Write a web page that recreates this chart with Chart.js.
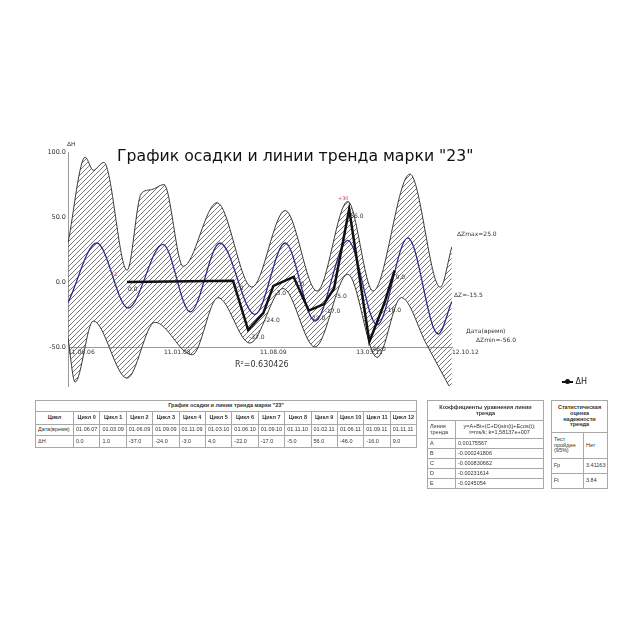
<!DOCTYPE html>
<html lang="ru">
<head>
  <meta charset="UTF-8" />
  <title>График осадки и линии тренда марки "23"</title>
  <script src="https://cdn.jsdelivr.net/npm/chart.js"></script>
  <style>
    body { margin: 0; background: #fff; font-family: 'DejaVu Sans', sans-serif; }
    #wrap { position: relative; width: 640px; height: 640px; overflow: hidden; }
    #chartBox { position: absolute; left: 0; top: 140px; width: 640px; height: 260px; }
    .txt { position: absolute; white-space: nowrap; color: #222; line-height: 1; }
    #title { left: 117px; top: 148px; font-size: 15.7px; color: #111; }
    .small { font-size: 6px; color: #333; }
    table { position: absolute; border-collapse: collapse; font-family: 'Liberation Sans', Arial, sans-serif; font-size: 5.5px; color: #333; table-layout: fixed; }
    td { border: 1px solid #a8a8a8; padding: 0 2px; line-height: 1.05; overflow: hidden; }
    td.c { text-align: center; }
    td.b { font-weight: bold; }
    .lg { display: inline-block; position: relative; width: 11px; height: 2px; background: #111; vertical-align: middle; }
    .lg::after { content: ''; position: absolute; left: 3px; top: -1.5px; width: 5px; height: 5px; border-radius: 50%; background: #111; }
  </style>
</head>
<body>
<div id="wrap">
  <div id="chartBox"><canvas id="chart"></canvas></div>

  <div class="txt" id="title">График осадки и линии тренда марки "23"</div>
  <div class="txt small" style="left:67px; top:141px;">ΔН</div>
  <div class="txt" style="left:235px; top:361px; font-size:8px; color:#333;">R²=0.630426</div>
  <div class="txt small" style="left:457px; top:231px;">ΔZmax=25.0</div>
  <div class="txt small" style="left:454px; top:292px;">ΔZ=-15.5</div>
  <div class="txt small" style="left:466px; top:328px;">Дата(время)</div>
  <div class="txt small" style="left:476px; top:337px;">ΔZmin=-56.0</div>
  <div class="txt" style="left:562px; top:378px; font-size:8px;"><span class="lg"></span> ΔН</div>
  <div class="txt" style="left:338px; top:196px; font-size:5px; color:#d04060;">+30</div>
  <div class="txt" style="left:110px; top:272px; font-size:5px; color:#d04060;">+1</div>

  <table id="t1" style="left:35px; top:400px; width:381px;"></table>

  <table style="left:427px; top:400px; width:116px;">
    <colgroup><col style="width:28px"><col style="width:88px"></colgroup>
    <tr style="height:20px"><td colspan="2" class="c b">Коэффициенты уравнения линии тренда</td></tr>
    <tr style="height:18px"><td>Линия тренда</td><td class="c">y=A+Bt+(C+Dt)sin(t)+Ecos(t); t=ms/k; k=1,58137e+007</td></tr>
    <tbody id="coef"></tbody>
  </table>

  <table style="left:551px; top:400px; width:56px;">
    <colgroup><col style="width:32px"><col style="width:24px"></colgroup>
    <tr style="height:32px"><td colspan="2" class="c b">Статистическая оценка надежности тренда</td></tr>
    <tr style="height:26px"><td>Тест пройден (95%)</td><td>Нет</td></tr>
    <tr style="height:15px"><td>Fp</td><td>3.41163</td></tr>
    <tr style="height:15px"><td>Ft</td><td>3.84</td></tr>
  </table>
</div>

<script>
  // measured cycles
  const cycles = ['Цикл 0', 'Цикл 1', 'Цикл 2', 'Цикл 3', 'Цикл 4', 'Цикл 5', 'Цикл 6',
                  'Цикл 7', 'Цикл 8', 'Цикл 9', 'Цикл 10', 'Цикл 11', 'Цикл 12'];
  const cycleDates = ['01.06.07', '01.03.09', '01.06.09', '01.09.09', '01.11.09', '01.03.10', '01.06.10',
                      '01.09.10', '01.11.10', '01.02.11', '01.06.11', '01.09.11', '01.11.11'];
  const dH = [0.0, 1.0, -37.0, -24.0, -3.0, 4.0, -22.0, -17.0, -5.0, 56.0, -46.0, -16.0, 9.0];

  // trend line (t = months since 11.06.06)
  const trendT = [0, 5.7, 11.9, 18.8, 24.2, 30.1, 37, 43, 48.9, 55.4, 61.2, 67.3, 73.3, 76];
  const trendV = [-16, 30, -20, 29, -23, 30, -25, 30, -30, 32, -33, 34, -40, -15];

  // confidence band edges
  const upperT = [0, 3.4, 5, 7.1, 11.7, 14.5, 16.5, 19, 22.8, 29.5, 36.4, 43, 49.3, 55.4, 60.4, 67.7, 73.7, 76];
  const upperV = [30, 96, 86, 92, 9, 68, 71, 75, 12, 61, -4, 55, -7, 62, -7, 83, -4, 27];
  const lowerT = [0, 1.4, 5, 11.7, 17.2, 24.6, 29.7, 36, 42.6, 48.9, 55.4, 61.2, 66, 71, 76];
  const lowerV = [-43, -77, -30, -74, -31, -56, -12, -47, -5, -50, 6, -58, -12, -48, -84];

  const xTickDates = ['11.06.06', '11.01.08', '11.08.09', '13.03.11', '12.10.12'];
  const yTicks = [-50, 0, 50, 100];

  const coefNames = ['A', 'B', 'C', 'D', 'E'];
  const coefValues = ['0.00175567', '-0.000241806', '-0.000830662', '-0.00231614', '-0.0245054'];

  function toMonths(s) {
    const [d, m, y] = s.split('.').map(Number);
    return (2000 + y - 2006) * 12 + (m - 6) + (d - 11) / 30.4;
  }

  // tables
  const t1 = document.getElementById('t1');
  let html = '<colgroup><col style="width:38px">' + cycles.map(() => '<col style="width:26.4px">').join('') + '</colgroup>';
  html += '<tr style="height:11px"><td colspan="14" class="c b">График осадки и линии тренда марки "23"</td></tr>';
  html += '<tr style="height:13px"><td class="c b">Цикл</td>' + cycles.map(c => `<td class="c b">${c}</td>`).join('') + '</tr>';
  html += '<tr style="height:11px"><td>Дата(время)</td>' + cycleDates.map(d => `<td>${d}</td>`).join('') + '</tr>';
  html += '<tr style="height:12px"><td>ΔН</td>' + dH.map(v => `<td>${v.toFixed(1)}</td>`).join('') + '</tr>';
  t1.innerHTML = html;
  document.getElementById('coef').innerHTML =
    coefNames.map((n, i) => `<tr style="height:10px"><td>${n}</td><td>${coefValues[i]}</td></tr>`).join('');

  function hatch() {
    const c = document.createElement('canvas');
    c.width = 5; c.height = 5;
    const g = c.getContext('2d');
    g.strokeStyle = '#555';
    g.lineWidth = 0.8;
    g.beginPath();
    g.moveTo(0, 5); g.lineTo(5, 0);
    g.moveTo(-1, 1); g.lineTo(1, -1);
    g.moveTo(4, 6); g.lineTo(6, 4);
    g.stroke();
    return g.createPattern(c, 'repeat');
  }

  const pointLabels = {
    id: 'pointLabels',
    afterDatasetsDraw(chart) {
      const meta = chart.getDatasetMeta(0);
      const ctx = chart.ctx;
      ctx.save();
      ctx.font = '6px "DejaVu Sans"';
      ctx.fillStyle = '#333';
      meta.data.forEach((pt, i) => ctx.fillText(dH[i].toFixed(1), pt.x + 1, pt.y + 9));
      ctx.restore();
    }
  };

  new Chart(document.getElementById('chart'), {
    type: 'line',
    data: {
      datasets: [
        {
          label: 'ΔН',
          data: cycleDates.map((d, i) => ({ x: toMonths(d), y: dH[i] })),
          borderColor: '#111', borderWidth: 2.5, pointRadius: 0, tension: 0
        },
        {
          label: 'тренд',
          data: trendT.map((t, i) => ({ x: t, y: trendV[i] })),
          borderColor: '#2c2c90', borderWidth: 1.3, pointRadius: 0, cubicInterpolationMode: 'monotone'
        },
        {
          label: 'верх',
          data: upperT.map((t, i) => ({ x: t, y: upperV[i] })),
          borderColor: '#3a3a3a', borderWidth: 1, pointRadius: 0, cubicInterpolationMode: 'monotone',
          fill: '+1', backgroundColor: hatch()
        },
        {
          label: 'низ',
          data: lowerT.map((t, i) => ({ x: t, y: lowerV[i] })),
          borderColor: '#3a3a3a', borderWidth: 1, pointRadius: 0, cubicInterpolationMode: 'monotone',
          fill: false
        }
      ]
    },
    options: {
      responsive: true,
      maintainAspectRatio: false,
      animation: false,
      layout: { padding: { top: 12, bottom: 14, left: 0, right: 188 } },
      plugins: {
        legend: { display: false },
        tooltip: { enabled: false },
        filler: { drawTime: 'beforeDatasetsDraw' }
      },
      scales: {
        x: {
          type: 'linear',
          position: { y: -50 },
          min: 0,
          max: toMonths('12.10.12'),
          grid: { display: false, drawTicks: false },
          border: { display: true, color: '#9a9a9a', width: 1 },
          afterBuildTicks: s => { s.ticks = xTickDates.map(d => ({ value: toMonths(d) })); },
          ticks: {
            align: 'start', padding: 2, maxRotation: 0, autoSkip: false,
            font: { size: 6, family: 'DejaVu Sans' }, color: '#333',
            callback: (v, i) => xTickDates[i]
          }
        },
        y: {
          min: -80,
          max: 100,
          grid: { display: false, drawTicks: false },
          border: { display: true, color: '#9a9a9a', width: 1 },
          afterFit: s => { s.width = 68; },
          afterBuildTicks: s => { s.ticks = yTicks.map(v => ({ value: v })); },
          ticks: {
            padding: 2,
            font: { size: 6.5, family: 'DejaVu Sans' }, color: '#333',
            callback: v => v.toFixed(1)
          }
        }
      }
    },
    plugins: [pointLabels]
  });
</script>
</body>
</html>
